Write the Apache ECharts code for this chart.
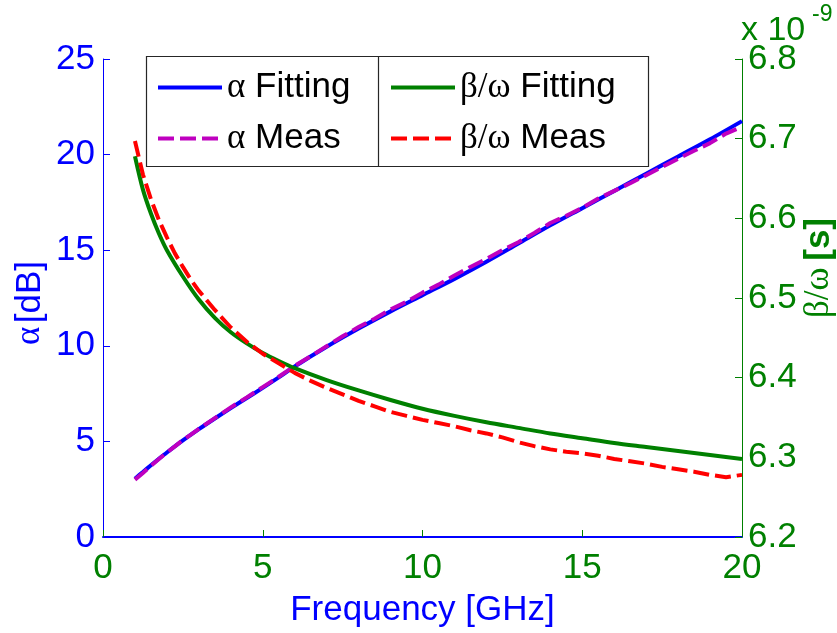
<!DOCTYPE html>
<html>
<head>
<meta charset="utf-8">
<script src="https://cdn.jsdelivr.net/npm/echarts@6/dist/echarts.min.js"></script>
<style>
html,body{margin:0;padding:0;background:#fff;}
#chart{width:837px;height:633px;}
</style>
</head>
<body>
<div id="chart"></div>
<script>
// Frequency grid (GHz) for the fitted curves
const freqFit = [1,1.25,1.5,1.75,2,2.5,3,3.5,4,4.5,5,5.5,6,7,8,9,10,11,12,13,14,15,16,17,18,19,20];
// Attenuation, fitted model (dB)
const alphaFit = [3.05,3.4,3.75,4.09,4.42,5.05,5.64,6.2,6.74,7.27,7.8,8.35,8.92,9.95,10.9,11.8,12.65,13.5,14.4,15.35,16.3,17.2,18.1,19.0,19.9,20.8,21.75];
// Group delay per unit, fitted model (x 1e-9 s)
const betaFit = [6.678,6.636,6.606,6.581,6.560,6.527,6.498,6.475,6.457,6.443,6.431,6.421,6.412,6.397,6.384,6.372,6.361,6.352,6.344,6.337,6.330,6.324,6.318,6.313,6.308,6.303,6.298];

// Frequency grid (GHz) for the measured data
const freqMeas = [1,1.25,1.5,1.75,2,2.25,2.5,2.75,3,3.5,4,4.5,5,5.5,6,6.5,7,7.5,8,8.5,9,9.5,10,10.5,11,11.5,12,12.5,13,13.5,14,14.5,15,15.5,16,16.5,17,17.5,18,18.5,19,19.5,20];
// Measured attenuation (dB)
const alphaMeas = [3.0,3.35,3.72,4.08,4.42,4.74,5.07,5.35,5.66,6.22,6.78,7.3,7.84,8.38,8.95,9.45,9.98,10.5,10.98,11.42,11.9,12.3,12.78,13.2,13.68,14.12,14.55,15.0,15.42,15.9,16.42,16.8,17.22,17.7,18.1,18.5,18.92,19.35,19.78,20.2,20.6,21.1,21.45];
// Measured beta/omega (x 1e-9 s)
const betaMeas = [6.697,6.655,6.624,6.598,6.576,6.556,6.539,6.523,6.509,6.485,6.463,6.445,6.430,6.418,6.406,6.396,6.387,6.379,6.371,6.364,6.357,6.352,6.347,6.343,6.339,6.334,6.330,6.325,6.319,6.314,6.310,6.307,6.305,6.302,6.298,6.295,6.292,6.288,6.285,6.282,6.278,6.275,6.278];

const xTicks = { min: 0, max: 20, step: 5 };
const leftTicks = { min: 0, max: 25, step: 5 };
const rightTicks = { min: 6.2, max: 6.8, step: 0.1 };

const BLUE = '#0000ff', GREEN = '#008000', MAGENTA = '#bf00bf', RED = '#ff0000';
const SANS = 'Liberation Sans, Arial, sans-serif';
const SERIF = 'Liberation Serif, DejaVu Serif, serif';
const FS = 35;

const zip = (xs, ys) => xs.map((x, i) => [x, ys[i]]);

const legendRich = {
  g: { fontFamily: SERIF, fontSize: FS, color: '#000' },
  t: { fontFamily: SANS, fontSize: FS, color: '#000' }
};
const legendFmt = name => {
  const sp = name.indexOf(' ');
  return '{g|' + name.slice(0, sp) + '}{t|' + name.slice(sp) + '}';
};
const legendBase = {
  orient: 'vertical', top: 70, itemWidth: 64, itemHeight: 14, itemGap: 16, padding: 0,
  formatter: legendFmt, textStyle: { fontSize: FS, lineHeight: 34, rich: legendRich },
  itemStyle: { opacity: 0 }, lineStyle: { width: 4 }, z: 10
};

const chart = echarts.init(document.getElementById('chart'), null, { renderer: 'canvas' });
chart.setOption({
  animation: false,
  backgroundColor: '#fff',
  grid: { left: 103, right: 95, top: 59, bottom: 84, containLabel: false },
  xAxis: {
    type: 'value', min: xTicks.min, max: xTicks.max, interval: xTicks.step,
    axisLine: { onZero: false, lineStyle: { color: BLUE, width: 2 } },
    axisTick: { inside: true, length: 7, lineStyle: { color: GREEN, width: 1 } },
    axisLabel: { color: GREEN, fontSize: FS, fontFamily: SANS, margin: 14 },
    splitLine: { show: false },
    name: 'Frequency [GHz]', nameLocation: 'middle', nameGap: 56,
    nameTextStyle: { color: BLUE, fontSize: FS, fontFamily: SANS }
  },
  yAxis: [
    {
      type: 'value', position: 'left', min: leftTicks.min, max: leftTicks.max, interval: leftTicks.step,
      axisLine: { show: true, onZero: false, lineStyle: { color: BLUE, width: 1 } },
      axisTick: { show: true, inside: true, length: 7, lineStyle: { color: BLUE } },
      axisLabel: { color: BLUE, fontSize: FS, fontFamily: SANS, margin: 8 },
      splitLine: { show: false }
    },
    {
      type: 'value', position: 'right', min: rightTicks.min, max: rightTicks.max, interval: rightTicks.step,
      axisLine: { show: true, onZero: false, lineStyle: { color: GREEN, width: 1 } },
      axisTick: { show: true, inside: true, length: 7, lineStyle: { color: GREEN } },
      axisLabel: { color: GREEN, fontSize: FS, fontFamily: SANS, margin: 6,
        formatter: v => v.toFixed(1) },
      splitLine: { show: false }
    }
  ],
  legend: [
    Object.assign({ data: ['α Fitting', 'α Meas'], left: 156 }, legendBase),
    Object.assign({ data: ['β/ω Fitting', 'β/ω Meas'], left: 389 }, legendBase)
  ],
  series: [
    {
      name: 'α Fitting', type: 'line', yAxisIndex: 0, data: zip(freqFit, alphaFit),
      symbol: 'none', smooth: 0.3, lineStyle: { color: BLUE, width: 4 }, itemStyle: { color: BLUE }
    },
    {
      name: 'α Meas', type: 'line', yAxisIndex: 0, data: zip(freqMeas, alphaMeas),
      symbol: 'none', lineStyle: { color: MAGENTA, width: 4, type: [16, 6] }, itemStyle: { color: MAGENTA }
    },
    {
      name: 'β/ω Fitting', type: 'line', yAxisIndex: 1, data: zip(freqFit, betaFit),
      symbol: 'none', smooth: 0.3, lineStyle: { color: GREEN, width: 4 }, itemStyle: { color: GREEN }
    },
    {
      name: 'β/ω Meas', type: 'line', yAxisIndex: 1, data: zip(freqMeas, betaMeas),
      symbol: 'none', lineStyle: { color: RED, width: 4, type: [16, 6] }, itemStyle: { color: RED }
    }
  ],
  graphic: [
    { type: 'rect', z: 8, shape: { x: 146.5, y: 56.5, width: 502, height: 110 },
      style: { fill: '#fff', stroke: '#262626', lineWidth: 1.2 } },
    { type: 'line', z: 9, shape: { x1: 378.5, y1: 56.5, x2: 378.5, y2: 166.5 },
      style: { stroke: '#262626', lineWidth: 1.2 } },
    { type: 'text', z: 9, x: 30, y: 303, rotation: Math.PI / 2,
      style: { text: '{g|α} {t|[dB]}', align: 'center', verticalAlign: 'middle',
        rich: { g: { fontFamily: SERIF, fontSize: FS, fill: BLUE }, t: { fontFamily: SANS, fontSize: FS, fill: BLUE } } } },
    { type: 'text', z: 9, x: 819, y: 268, rotation: Math.PI / 2,
      style: { text: '{g|β/ω}  {t|[s]}', align: 'center', verticalAlign: 'middle',
        rich: { g: { fontFamily: SERIF, fontSize: FS, fill: GREEN }, t: { fontFamily: SANS, fontSize: FS, fontWeight: 'bold', fill: GREEN } } } },
    { type: 'text', z: 9, x: 741, y: 48,
      style: { text: 'x 10', fontFamily: SANS, fontSize: 34, fill: GREEN, align: 'left', verticalAlign: 'bottom' } },
    { type: 'text', z: 9, x: 812, y: 26,
      style: { text: '-9', fontFamily: SANS, fontSize: 23, fill: GREEN, align: 'left', verticalAlign: 'bottom' } }
  ]
});
</script>
</body>
</html>
